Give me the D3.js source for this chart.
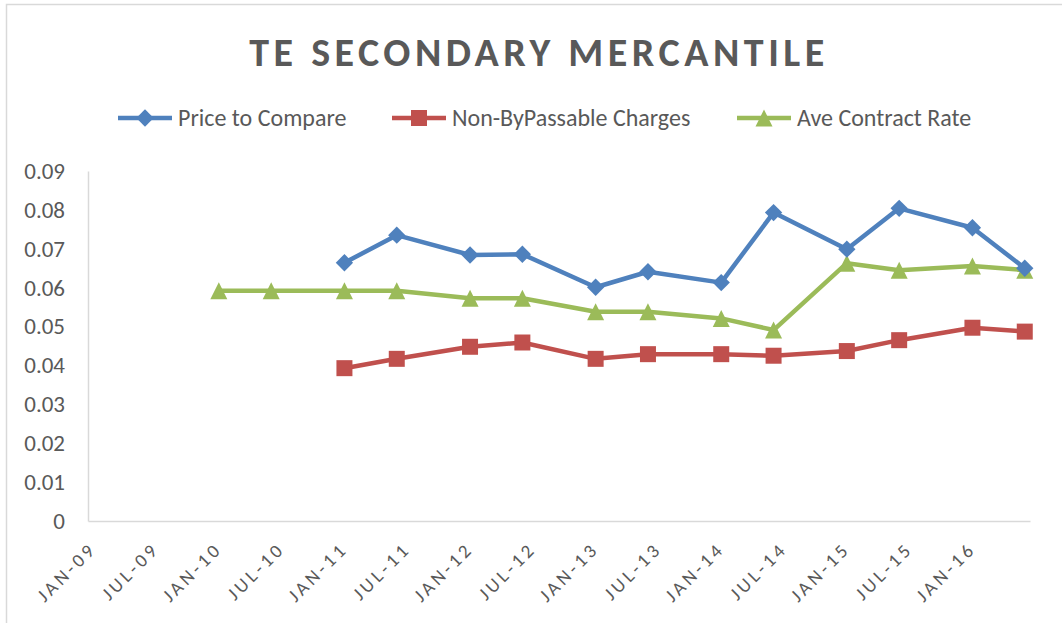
<!DOCTYPE html>
<html lang="en">
<head>
<meta charset="utf-8">
<title>TE Secondary Mercantile</title>
<script src="https://d3js.org/d3.v7.min.js"></script>
<style>
  body { margin: 0; background: #fff; }
  svg text { font-family: Carlito, Calibri, Lato, "Open Sans", sans-serif; fill: #595959; }
</style>
</head>
<body>
<script>
// data (one point each January and June)
var dates = ["2010-01", "2010-06", "2011-01", "2011-06", "2012-01", "2012-06", "2013-01",
             "2013-06", "2014-01", "2014-06", "2015-01", "2015-06", "2016-01", "2016-06"];
var priceToCompare = [null, null, 0.0664, 0.0735, 0.0684, 0.0686, 0.0601,
                      0.0641, 0.0613, 0.0793, 0.0699, 0.0804, 0.0754, 0.0650];
var nonBypassable = [null, null, 0.0393, 0.0417, 0.0448, 0.0459, 0.0417,
                     0.0429, 0.0429, 0.0425, 0.0437, 0.0465, 0.0497, 0.0487];
var aveContract = [0.0592, 0.0592, 0.0592, 0.0592, 0.0573, 0.0573, 0.0538,
                   0.0538, 0.0521, 0.0491, 0.0663, 0.0645, 0.0656, 0.0645];
var seriesNames = ["Price to Compare", "Non-ByPassable Charges", "Ave Contract Rate"];
var xTickLabels = ["JAN-09", "JUL-09", "JAN-10", "JUL-10", "JAN-11", "JUL-11", "JAN-12", "JUL-12",
                   "JAN-13", "JUL-13", "JAN-14", "JUL-14", "JAN-15", "JUL-15", "JAN-16"];
var yTicks = [0, 0.01, 0.02, 0.03, 0.04, 0.05, 0.06, 0.07, 0.08, 0.09];

var width = 1062, height = 626;
var svg = d3.select("body").append("svg")
    .attr("width", width)
    .attr("height", height);

// chart border (only left/top visible in the crop)
svg.append("path")
    .attr("d", "M6.5,623V4.5H1070")
    .attr("fill", "none")
    .attr("stroke", "#d9d9d9")
    .attr("stroke-width", 1.5);

// month index counted from Jan 2009, each month a slot
var monthIdx = function(s) {
    var p = s.split("-");
    return (+p[0] - 2009) * 12 + (+p[1] - 1);
};
var x = d3.scaleLinear().domain([-0.5, 89.5]).range([88, 1030]);
var y = d3.scaleLinear().domain([0, 0.09]).range([521, 171]);

// title
svg.append("text")
    .attr("x", 539)
    .attr("y", 66)
    .attr("text-anchor", "middle")
    .style("font-size", "40px")
    .style("font-weight", "bold")
    .style("letter-spacing", "4.5px")
    .text("TE SECONDARY MERCANTILE");

// axes
var yAxis = svg.append("g")
    .attr("transform", "translate(88,0)")
    .call(d3.axisLeft(y).tickValues(yTicks).tickSize(0).tickPadding(23)
        .tickFormat(function(d) { return d === 0 ? "0" : d3.format(".2f")(d); }));
yAxis.select(".domain").attr("stroke", "#d9d9d9").attr("stroke-width", 1.5);
yAxis.selectAll("text").style("font-size", "23px").attr("fill", "#595959");

var xTickVals = xTickLabels.map(function(d, i) { return i * 6; });
var xAxis = svg.append("g")
    .attr("transform", "translate(0,521)")
    .call(d3.axisBottom(x).tickValues(xTickVals).tickSize(0)
        .tickFormat(function(d, i) { return xTickLabels[i]; }));
xAxis.select(".domain").attr("stroke", "#d9d9d9").attr("stroke-width", 1.5);
xAxis.selectAll("text")
    .style("font-size", "19px")
    .style("letter-spacing", "3.5px")
    .attr("fill", "#595959")
    .attr("text-anchor", "end")
    .attr("dy", 0)
    .attr("y", 0)
    .attr("transform", "translate(4,29) rotate(-45)");

// markers like excel's
var diamond = { draw: function(ctx, size) {
    var r = Math.sqrt(size) / 2;
    ctx.moveTo(0, -r); ctx.lineTo(r, 0); ctx.lineTo(0, r); ctx.lineTo(-r, 0); ctx.closePath();
}};
var triangle = { draw: function(ctx, size) {
    var r = Math.sqrt(size) / 2;
    ctx.moveTo(0, -r); ctx.lineTo(r, r); ctx.lineTo(-r, r); ctx.closePath();
}};

var series = [
    { name: seriesNames[0], values: priceToCompare, color: "#4f81bd", symbol: diamond, size: 300 },
    { name: seriesNames[1], values: nonBypassable, color: "#c0504d", symbol: d3.symbolSquare, size: 256 },
    { name: seriesNames[2], values: aveContract, color: "#9bbb59", symbol: triangle, size: 289 }
];

var line = d3.line()
    .defined(function(d) { return d.v != null; })
    .x(function(d) { return x(d.m); })
    .y(function(d) { return y(d.v); });

// draw green first so blue/red sit on top like the original
[2, 1, 0].forEach(function(k) {
    var s = series[k];
    var pts = dates.map(function(d, i) { return { m: monthIdx(d), v: s.values[i] }; });
    svg.append("path")
        .datum(pts)
        .attr("d", line)
        .attr("fill", "none")
        .attr("stroke", s.color)
        .attr("stroke-width", 4.5)
        .attr("stroke-linejoin", "round");
    svg.selectAll(".m" + k)
        .data(pts.filter(function(d) { return d.v != null; }))
        .enter().append("path")
        .attr("class", "m" + k)
        .attr("transform", function(d) { return "translate(" + x(d.m) + "," + y(d.v) + ")"; })
        .attr("d", d3.symbol().type(s.symbol).size(s.size))
        .attr("fill", s.color);
});

// legend
var legendX = [118, 392, 737];
var legend = svg.selectAll(".legend")
    .data(series)
    .enter().append("g")
    .attr("class", "legend")
    .attr("transform", function(d, i) { return "translate(" + legendX[i] + ",118)"; });
legend.append("line")
    .attr("x1", 0).attr("x2", 54)
    .attr("stroke", function(d) { return d.color; })
    .attr("stroke-width", 4.5);
legend.append("path")
    .attr("transform", "translate(27,0)")
    .attr("d", function(d) { return d3.symbol().type(d.symbol).size(d.size)(); })
    .attr("fill", function(d) { return d.color; });
legend.append("text")
    .attr("x", 60)
    .attr("dy", "0.35em")
    .style("font-size", "24px")
    .text(function(d) { return d.name; });
</script>
</body>
</html>
